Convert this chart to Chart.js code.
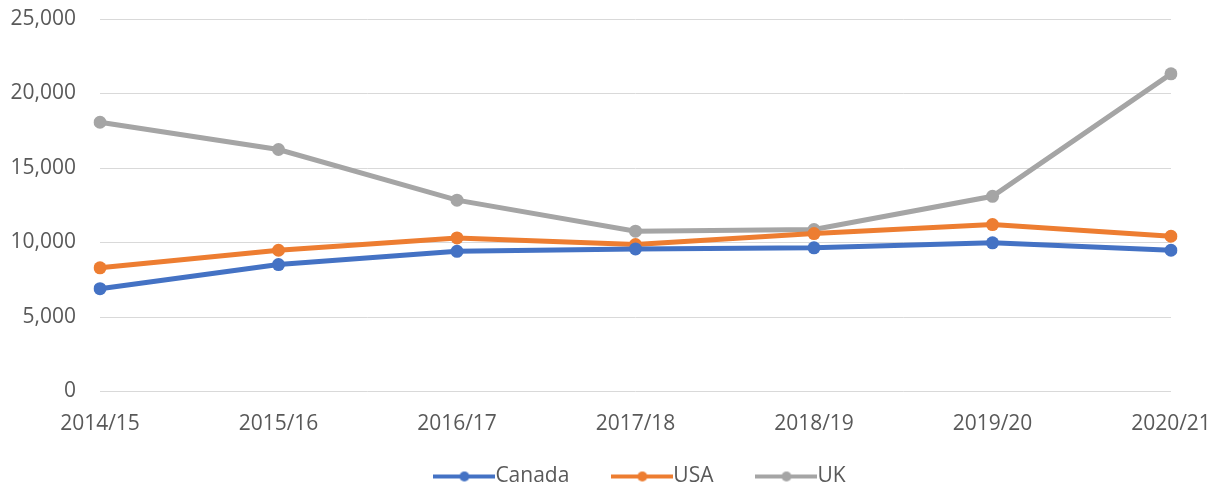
<!DOCTYPE html>
<html>
<head>
<meta charset="utf-8">
<script src="https://cdn.jsdelivr.net/npm/chart.js@4/dist/chart.umd.min.js"></script>
<style>
    html, body { margin: 0; padding: 0; background: #ffffff; overflow: hidden; }
    #wrap { width: 1221px; height: 525px; position: relative; }
</style>
</head>
<body>
<div id="wrap"><canvas id="studentChart"></canvas></div>
<script>
// Chart data
const years = ['2014/15', '2015/16', '2016/17', '2017/18', '2018/19', '2019/20', '2020/21'];
const canadaValues = [6900, 8520, 9410, 9570, 9640, 9980, 9480];
const usaValues = [8300, 9480, 10310, 9860, 10600, 11200, 10420];
const ukValues = [18070, 16240, 12840, 10760, 10870, 13100, 21320];

const colors = {
    canada: '#4472C4',
    usa: '#ED7D31',
    uk: '#A5A5A5'
};

// Legend marker: a short line with a dot in the middle
const markerWidth = 62;
const markerBox = 41;
function legendMarker(color) {
    const c = document.createElement('canvas');
    c.width = markerWidth;
    c.height = 14;
    const g = c.getContext('2d');
    g.strokeStyle = color;
    g.lineWidth = 4;
    g.beginPath();
    g.moveTo(0, 7);
    g.lineTo(markerWidth, 7);
    g.stroke();
    g.fillStyle = color;
    g.beginPath();
    g.arc(markerWidth / 2, 7, 5, 0, Math.PI * 2);
    g.fill();
    return c;
}

// Move the legend row to where it sits in the reference
const legendPlace = {
    id: 'legendPlace',
    afterLayout(chart) {
        const lg = chart.legend;
        const overhang = (markerWidth - markerBox) / 2;
        const dx = 639.5 + overhang / 2 - (lg.left + lg.right) / 2;
        const dy = 413.5 - lg.top;
        lg.left += dx;
        lg.right += dx;
        lg.top += dy;
        lg.bottom += dy;
    }
};

function makeDataset(label, data, color) {
    return {
        label: label,
        data: data,
        borderColor: color,
        backgroundColor: color,
        borderWidth: 5,
        pointRadius: 6.5,
        pointBackgroundColor: color,
        pointBorderColor: color,
        pointBorderWidth: 0,
        tension: 0,
        fill: false
    };
}

const ctx = document.getElementById('studentChart').getContext('2d');
const fontFamily = '"Open Sans", "Noto Sans", sans-serif';

new Chart(ctx, {
    type: 'line',
    data: {
        labels: years,
        datasets: [
            makeDataset('Canada', canadaValues, colors.canada),
            makeDataset('USA', usaValues, colors.usa),
            makeDataset('UK', ukValues, colors.uk)
        ]
    },
    plugins: [legendPlace],
    options: {
        responsive: true,
        maintainAspectRatio: false,
        animation: false,
        layout: {
            padding: { top: 19, right: 50, bottom: 0, left: 0 }
        },
        plugins: {
            tooltip: { enabled: false },
            legend: {
                position: 'bottom',
                labels: {
                    usePointStyle: true,
                    pointStyleWidth: markerBox,
                    padding: 52.5,
                    color: '#595959',
                    font: { family: fontFamily, size: 21 },
                    generateLabels: function(chart) {
                        const items = Chart.defaults.plugins.legend.labels.generateLabels(chart);
                        items.forEach(item => {
                            item.pointStyle = legendMarker(chart.data.datasets[item.datasetIndex].borderColor);
                        });
                        return items;
                    }
                }
            }
        },
        scales: {
            x: {
                offset: false,
                grid: { display: false, drawTicks: false },
                border: { display: false },
                ticks: {
                    color: '#595959',
                    padding: 22.5,
                    maxRotation: 0,
                    font: { family: fontFamily, size: 21, lineHeight: 1 }
                },
                afterFit: function(scale) {
                    scale.height = 50;
                    scale.paddingLeft = 0;
                    scale.paddingRight = 0;
                }
            },
            y: {
                min: 0,
                max: 25000,
                grid: { color: '#D9D9D9', lineWidth: 1, drawTicks: false },
                border: { display: false },
                ticks: {
                    stepSize: 5000,
                    color: '#595959',
                    padding: 24,
                    font: { family: fontFamily, size: 21 },
                    callback: function(value) {
                        return value.toLocaleString('en-US');
                    }
                },
                afterFit: function(scale) {
                    scale.width = 100;
                    scale.paddingTop = 0;
                    scale.paddingBottom = 0;
                }
            }
        }
    }
});
</script>
</body>
</html>
